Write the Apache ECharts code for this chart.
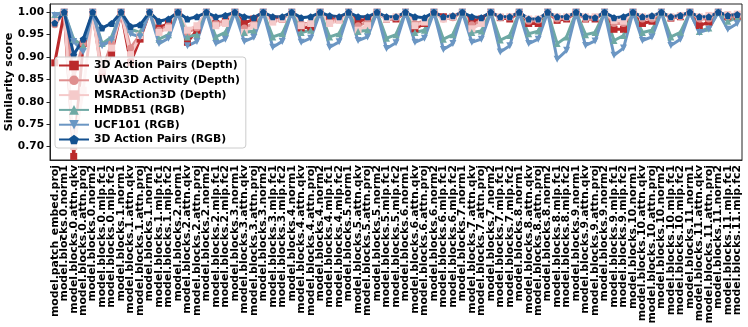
<!DOCTYPE html>
<html>
<head>
<meta charset="utf-8">
<script src="https://cdn.jsdelivr.net/npm/echarts@6/dist/echarts.min.js"></script>
<style>
  html, body { margin: 0; padding: 0; background: #fff; }
  #chart { width: 748px; height: 327px; }
</style>
</head>
<body>
<div id="chart"></div>
<script>
// layer names on the x axis
const layers = ['norm1', 'attn.qkv', 'attn.proj', 'norm2', 'mlp.fc1', 'mlp.fc2'];
const categories = ['model.patch_embed.proj'];
for (let b = 0; b < 12; b++) {
  layers.forEach(l => categories.push('model.blocks.' + b + '.' + l));
}

const yTicks = [0.70, 0.75, 0.80, 0.85, 0.90, 0.95, 1.00];

// one row per block: norm1, qkv, proj, norm2, fc1, fc2
const apDepth = [0.887,
  1, 0.678, 0.93, 1, 0.86, 0.908,
  1, 0.888, 0.94, 1, 0.965, 0.975,
  1, 0.933, 0.96, 1, 0.975, 0.98,
  1, 0.975, 0.985, 1, 0.985, 0.985,
  1, 0.965, 0.967, 1, 0.985, 0.985,
  1, 0.98, 0.985, 1, 0.985, 0.985,
  1, 0.963, 0.975, 1, 0.99, 0.99,
  1, 0.98, 0.985, 1, 0.988, 0.985,
  1, 0.975, 0.975, 1, 0.982, 0.985,
  1, 0.985, 0.985, 1, 0.962, 0.962,
  1, 0.975, 0.98, 1, 0.987, 0.99,
  1, 0.97, 0.978, 1, 0.99, 0.99];

const uwaDepth = [0.972,
  1, 0.855, 0.93, 1, 0.87, 0.93,
  1, 0.92, 0.95, 1, 0.96, 0.97,
  1, 0.955, 0.965, 1, 0.975, 0.98,
  1, 0.965, 0.975, 1, 0.98, 0.985,
  1, 0.975, 0.975, 1, 0.98, 0.985,
  1, 0.97, 0.978, 1, 0.985, 0.988,
  1, 0.975, 0.98, 1, 0.985, 0.988,
  1, 0.972, 0.98, 1, 0.988, 0.99,
  1, 0.98, 0.982, 1, 0.985, 0.988,
  1, 0.985, 0.988, 1, 0.975, 0.975,
  1, 0.985, 0.985, 1, 0.988, 0.99,
  1, 0.985, 0.985, 1, 0.99, 0.992];

const msrDepth = [0.98,
  1, 0.70, 0.826, 1, 0.85, 0.92,
  1, 0.905, 0.948, 1, 0.955, 0.965,
  1, 0.96, 0.97, 1, 0.97, 0.975,
  1, 0.955, 0.97, 1, 0.978, 0.985,
  1, 0.97, 0.975, 1, 0.975, 0.982,
  1, 0.96, 0.97, 1, 0.985, 0.99,
  1, 0.97, 0.978, 1, 0.985, 0.99,
  1, 0.963, 0.975, 1, 0.99, 0.99,
  1, 0.985, 0.985, 1, 0.99, 0.99,
  1, 0.99, 0.99, 1, 0.982, 0.98,
  1, 0.99, 0.99, 1, 0.99, 0.993,
  1, 0.99, 0.993, 1, 0.995, 0.996];

const hmdbRgb = [0.995,
  1, 0.94, 0.925, 1, 0.93, 0.945,
  1, 0.962, 0.955, 1, 0.94, 0.95,
  1, 0.945, 0.95, 1, 0.945, 0.955,
  1, 0.955, 0.958, 1, 0.945, 0.952,
  1, 0.955, 0.96, 1, 0.945, 0.952,
  1, 0.957, 0.96, 1, 0.942, 0.95,
  1, 0.955, 0.96, 1, 0.94, 0.95,
  1, 0.955, 0.958, 1, 0.938, 0.948,
  1, 0.952, 0.958, 1, 0.93, 0.945,
  1, 0.95, 0.955, 1, 0.937, 0.948,
  1, 0.955, 0.96, 1, 0.945, 0.955,
  1, 0.957, 0.965, 1, 0.98, 0.988];

const ucfRgb = [0.993,
  1, 0.935, 0.912, 1, 0.925, 0.938,
  1, 0.952, 0.945, 1, 0.93, 0.942,
  1, 0.925, 0.935, 1, 0.93, 0.94,
  1, 0.935, 0.944, 1, 0.922, 0.935,
  1, 0.933, 0.942, 1, 0.922, 0.934,
  1, 0.937, 0.945, 1, 0.919, 0.932,
  1, 0.933, 0.942, 1, 0.917, 0.93,
  1, 0.933, 0.94, 1, 0.911, 0.925,
  1, 0.93, 0.94, 1, 0.895, 0.915,
  1, 0.926, 0.936, 1, 0.904, 0.92,
  1, 0.937, 0.945, 1, 0.926, 0.94,
  1, 0.955, 0.962, 1, 0.962, 0.975];

const apRgb = [0.976,
  1, 0.905, 0.94, 1, 0.965, 0.975,
  1, 0.968, 0.972, 1, 0.98, 0.985,
  1, 0.985, 0.99, 1, 0.99, 0.993,
  1, 0.99, 0.988, 1, 0.99, 0.99,
  1, 0.988, 0.99, 1, 0.992, 0.99,
  1, 0.99, 0.99, 1, 0.99, 0.99,
  1, 0.99, 0.988, 1, 0.99, 0.992,
  1, 0.99, 0.988, 1, 0.99, 0.99,
  1, 0.985, 0.985, 1, 0.99, 0.99,
  1, 0.99, 0.988, 1, 0.988, 0.99,
  1, 0.99, 0.992, 1, 0.99, 0.993,
  1, 0.99, 0.99, 1, 0.993, 0.995];

const FONT = 'DejaVu Sans';
const downTri = 'path://M0,0 L2,0 L1,1.75 Z';
const pentagon = 'path://M1,0 L1.951,0.691 L1.588,1.809 L0.412,1.809 L0.049,0.691 Z';

function line(name, data, color, symbol) {
  return {
    name: name,
    type: 'line',
    data: data,
    symbol: symbol,
    symbolSize: 7,
    showSymbol: true,
    itemStyle: { color: color },
    lineStyle: { color: color, width: 3 },
    emphasis: { disabled: true },
    animation: false
  };
}

const chart = echarts.init(document.getElementById('chart'), null, { renderer: 'canvas' });
chart.setOption({
  backgroundColor: '#fff',
  animation: false,
  grid: {
    left: 50, right: 6, top: 4, bottom: 167,
    containLabel: false, outerBoundsMode: 'none',
    show: true, borderColor: '#222', borderWidth: 1
  },
  legend: {
    orient: 'vertical',
    left: 55,
    top: 57,
    itemWidth: 30,
    itemHeight: 12,
    itemGap: 3.8,
    padding: [3, 6, 3, 3],
    backgroundColor: 'rgba(255,255,255,0.8)',
    borderColor: '#ccc',
    borderWidth: 1,
    borderRadius: 3,
    selectedMode: false,
    textStyle: { fontFamily: FONT, fontWeight: 'bold', fontSize: 10.8, color: '#000' }
  },
  xAxis: {
    type: 'category',
    data: categories,
    boundaryGap: true,
    axisLine: { lineStyle: { color: '#222', width: 1 } },
    axisTick: { alignWithLabel: true, interval: 0, length: 3.5, lineStyle: { color: '#222' } },
    axisLabel: { interval: 0, rotate: 90, margin: 5, fontFamily: FONT, fontWeight: 'bold', fontSize: 10.9, color: '#000' },
    splitLine: { show: false }
  },
  yAxis: {
    type: 'value',
    min: 0.67,
    max: 1.0185,
    name: 'Similarity score',
    nameLocation: 'middle',
    nameGap: 35,
    nameMoveOverlap: false,
    nameTextStyle: { fontFamily: FONT, fontWeight: 'bold', fontSize: 11.2, color: '#000' },
    axisLine: { show: true, lineStyle: { color: '#222', width: 1 } },
    axisTick: { show: true, length: 3.5, customValues: yTicks, lineStyle: { color: '#222' } },
    axisLabel: {
      margin: 6, customValues: yTicks, fontFamily: FONT, fontWeight: 'bold', fontSize: 10.6, color: '#000',
      formatter: v => v.toFixed(2)
    },
    splitLine: { show: false }
  },
  series: [
    line('3D Action Pairs (Depth)', apDepth, '#bb2a2c', 'rect'),
    line('UWA3D Activity (Depth)', uwaDepth, '#df8f8f', 'circle'),
    line('MSRAction3D (Depth)', msrDepth, '#f5caca', 'rect'),
    line('HMDB51 (RGB)', hmdbRgb, '#6ea9a4', 'triangle'),
    line('UCF101 (RGB)', ucfRgb, '#6b96c3', downTri),
    line('3D Action Pairs (RGB)', apRgb, '#13508f', pentagon)
  ]
});
</script>
</body>
</html>
